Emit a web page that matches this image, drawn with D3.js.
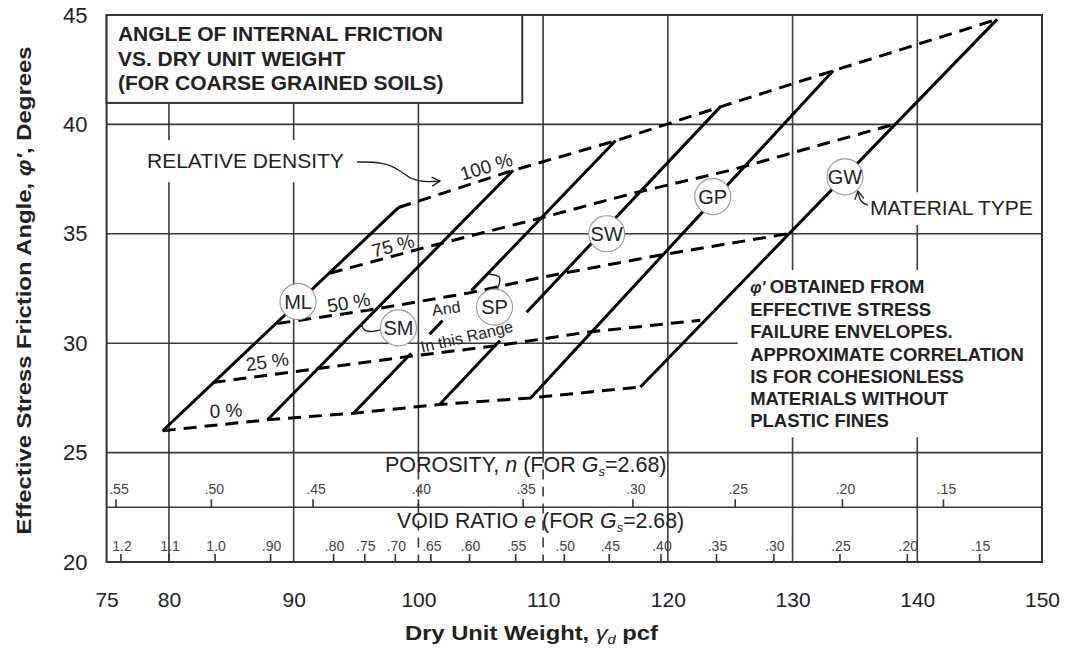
<!DOCTYPE html>
<html>
<head>
<meta charset="utf-8">
<title>Angle of internal friction vs dry unit weight</title>
<script src="https://d3js.org/d3.v7.min.js"></script>
<style>
    body { margin: 0; background: #fff; }
    text { font-family: "Liberation Sans", Arial, sans-serif; fill: #222; }
</style>
</head>
<body>
<script>
// ---- values ----
var xTicks = [75, 80, 90, 100, 110, 120, 130, 140, 150];
var yTicks = [20, 25, 30, 35, 40, 45];

var materials = ["ML", "SM", "SP", "SW", "GP", "GW"];
// each material line, 0 % end and 100 % end  [dry unit weight, phi']
var matLow  = [[79.5, 26.0], [87.9, 26.5], [94.8, 26.8], [101.7, 27.2], [109.0, 27.5], [117.8, 28.0]];
var matHigh = [[98.4, 36.2], [107.6, 37.9], [115.8, 39.25], [124.2, 40.8], [133.25, 42.45], [146.4, 44.8]];
// pieces of each line that are drawn (fraction along the line)
var matShown = [[[0, 1]], [[0, 1]], [[0, 0.22], [0.29, 0.34], [0.45, 1]], [[0, 0.215], [0.31, 1]], [[0, 1]], [[0, 1]]];
// where the circled names sit
var matTag = [[90.35, 31.9], [98.4, 30.7], [106.1, 31.65], [115.1, 35.0], [123.6, 36.7], [134.2, 37.6]];

var densNames = ["0 %", "25 %", "50 %", "75 %", "100 %"];
var dens0   = [[79.5, 26.0], [87.9, 26.5], [94.8, 26.8], [101.7, 27.2], [109.0, 27.5], [117.8, 28.0]];
var dens25  = [[83.5, 28.2], [99.3, 29.4], [106.5, 29.9], [113.5, 30.5], [122.6, 31.05]];
var dens50  = [[88.7, 30.9], [95.9, 31.5], [104.1, 32.3], [109.8, 33.0], [119.1, 34.0], [129.6, 35.0]];
var dens75  = [[92.9, 33.2], [100.7, 34.4], [110.0, 35.75], [117.2, 36.85], [125.0, 37.9], [138.1, 40.0]];
var dens100 = [[98.4, 36.2], [107.6, 37.9], [115.8, 39.25], [124.2, 40.8], [133.25, 42.45], [146.4, 44.8]];

var porosityLabels = [".55", ".50", ".45", ".40", ".35", ".30", ".25", ".20", ".15"];
var porosityAt     = [75.75, 83.4, 91.55, 100.0, 108.4, 117.2, 125.4, 134.0, 142.1];
var voidLabels = ["1.2", "1.1", "1.0", ".90", ".80", ".75", ".70", ".65", ".60", ".55", ".50", ".45", ".40", ".35", ".30", ".25", ".20", ".15"];
var voidAt     = [76.15, 80.0, 83.7, 88.15, 93.2, 95.7, 98.15, 101.0, 104.1, 107.8, 111.7, 115.3, 119.45, 123.9, 128.5, 133.8, 139.2, 145.0];

var titleLines = ["ANGLE OF INTERNAL FRICTION", "VS. DRY UNIT WEIGHT", "(FOR COARSE GRAINED SOILS)"];
var noteLines = ["OBTAINED FROM", "EFFECTIVE STRESS", "FAILURE ENVELOPES.", "APPROXIMATE CORRELATION",
    "IS FOR COHESIONLESS", "MATERIALS WITHOUT", "PLASTIC FINES"];

// ---- layout ----
var width = 1065, height = 650;

var svg = d3.select("body").append("svg")
    .attr("width", width)
    .attr("height", height);

svg.append("rect").attr("width", width).attr("height", height).attr("fill", "#fff");

var x = d3.scaleLinear().domain([75, 150]).range([106.6, 1042]);
var y = d3.scaleLinear().domain([20, 45]).range([562, 15]);

var line = d3.line()
    .x(function (d) { return x(d[0]); })
    .y(function (d) { return y(d[1]); });

var defs = svg.append("defs");
defs.append("marker")
    .attr("id", "arr")
    .attr("viewBox", "-10 -6 12 12")
    .attr("markerWidth", 12).attr("markerHeight", 12)
    .attr("markerUnits", "userSpaceOnUse")
    .attr("orient", "auto")
    .append("path")
    .attr("d", "M-8,-4.5 L0,0 L-8,4.5")
    .attr("fill", "none")
    .attr("stroke", "#222")
    .attr("stroke-width", 1.4);

/* GRID */
var vGrid = [
    { v: 80, solid: [[40.98, 39.28], [37.36, 20]] },
    { v: 90, solid: [[40.98, 39.28], [37.36, 20]] },
    { v: 100, solid: [[40.98, 25]], dash: [[25, 20]] },
    { v: 110, solid: [[45, 25]], dash: [[25, 20]] },
    { v: 120, solid: [[45, 20]] },
    { v: 130, solid: [[45, 33.34], [25.7, 20]] },
    { v: 140, solid: [[45, 36.9], [35.4, 33.34], [25.7, 20]] }
];
var hGrid = [[40, 150], [35, 150], [30, 125.6], [25, 150], [22.5, 150]];

var grid = svg.append("g").attr("stroke", "#3a3a3a").attr("stroke-width", 1.6);
vGrid.forEach(function (gl) {
    gl.solid.forEach(function (s) {
        grid.append("line")
            .attr("x1", x(gl.v)).attr("x2", x(gl.v))
            .attr("y1", y(s[0])).attr("y2", y(s[1]));
    });
    (gl.dash || []).forEach(function (s) {
        grid.append("line")
            .attr("x1", x(gl.v)).attr("x2", x(gl.v))
            .attr("y1", y(s[0])).attr("y2", y(s[1]))
            .attr("stroke-dasharray", "10,7");
    });
});
hGrid.forEach(function (h) {
    grid.append("line")
        .attr("x1", x(75)).attr("x2", x(h[1]))
        .attr("y1", y(h[0])).attr("y2", y(h[0]));
});

// frame
svg.append("rect")
    .attr("x", x(75)).attr("y", y(45))
    .attr("width", x(150) - x(75)).attr("height", y(20) - y(45))
    .attr("fill", "none").attr("stroke", "#333").attr("stroke-width", 2);

/* POROSITY / VOID RATIO scales */
var small = svg.append("g");
porosityAt.forEach(function (v, i) {
    small.append("line")
        .attr("x1", x(v)).attr("x2", x(v))
        .attr("y1", y(22.5)).attr("y2", y(22.5) - 8)
        .attr("stroke", "#333").attr("stroke-width", 1.6);
    small.append("text")
        .attr("x", x(v) + 3).attr("y", y(22.5) - 13)
        .attr("text-anchor", "middle")
        .style("font-size", "14px").style("fill", "#444")
        .text(porosityLabels[i]);
});
voidAt.forEach(function (v, i) {
    small.append("line")
        .attr("x1", x(v)).attr("x2", x(v))
        .attr("y1", y(20)).attr("y2", y(20) - 8)
        .attr("stroke", "#333").attr("stroke-width", 1.6);
    small.append("text")
        .attr("x", x(v) + 1).attr("y", y(20) - 11)
        .attr("text-anchor", "middle")
        .style("font-size", "14px").style("fill", "#444")
        .text(voidLabels[i]);
});

var por = svg.append("text").attr("x", x(97.32)).attr("y", y(24.1)).style("font-size", "21.5px");
por.append("tspan").text("POROSITY, ");
por.append("tspan").style("font-style", "italic").text("n");
por.append("tspan").text(" (FOR ");
por.append("tspan").style("font-style", "italic").text("G");
por.append("tspan").attr("dy", 4).style("font-size", "13px").style("font-style", "italic").text("s");
por.append("tspan").attr("dy", -4).text("=2.68)");

var vr = svg.append("text").attr("x", x(98.28)).attr("y", y(21.54)).style("font-size", "21.3px");
vr.append("tspan").text("VOID RATIO ");
vr.append("tspan").style("font-style", "italic").text("e");
vr.append("tspan").text(" (FOR ");
vr.append("tspan").style("font-style", "italic").text("G");
vr.append("tspan").attr("dy", 4).style("font-size", "13px").style("font-style", "italic").text("s");
vr.append("tspan").attr("dy", -4).text("=2.68)");

/* TITLE BOX */
svg.append("rect")
    .attr("x", x(75)).attr("y", y(45))
    .attr("width", x(108.33) - x(75)).attr("height", y(40.98) - y(45))
    .attr("fill", "#fff").attr("stroke", "#333").attr("stroke-width", 2);
var titleY = [43.79, 42.67, 41.55];
titleLines.forEach(function (t, i) {
    svg.append("text")
        .attr("x", x(75.91)).attr("y", y(titleY[i]))
        .style("font-size", "21px").style("font-weight", "bold")
        .text(t);
});

/* MATERIAL LINES */
var mat = svg.append("g")
    .attr("fill", "none").attr("stroke", "#000").attr("stroke-width", 3);
materials.forEach(function (m, i) {
    var a = matLow[i], b = matHigh[i];
    function at(t) { return [a[0] + (b[0] - a[0]) * t, a[1] + (b[1] - a[1]) * t]; }
    matShown[i].forEach(function (s) {
        mat.append("path").attr("d", line([at(s[0]), at(s[1])]));
    });
});

/* RELATIVE DENSITY LINES */
var densLines = [dens0, dens25, dens50, dens75, dens100];
svg.append("g")
    .selectAll("path")
    .data(densLines)
    .enter().append("path")
    .attr("d", line)
    .attr("fill", "none")
    .attr("stroke", "#000")
    .attr("stroke-width", 3)
    .attr("stroke-dasharray", "13,8");

// percent labels: [x, y, angle]
var densTagAt = [[84.6, 26.62, -3], [87.95, 28.86, -8], [94.5, 31.56, -10], [98.1, 34.16, -15], [105.6, 37.78, -17]];
densNames.forEach(function (n, i) {
    var p = densTagAt[i];
    svg.append("text")
        .attr("text-anchor", "middle")
        .attr("transform", "translate(" + x(p[0]) + "," + y(p[1]) + ") rotate(" + p[2] + ")")
        .style("font-size", "19px")
        .text(n);
});

/* pointers */
var pointers = [
    // relative density arrow
    { pts: [[95.08, 38.28], [97.17, 38.28], [98.53, 37.91], [99.33, 37.5], [100.53, 37.36], [101.73, 37.41]], arrow: true },
    // SM bracket
    { pts: [[95.4, 30.92], [95.64, 30.46], [96.92, 30.6]] },
    // SP bracket
    { pts: [[105.5, 33.16], [106.78, 33.11], [106.3, 32.43]] },
    // material type
    { pts: [[136.05, 36.31], [135.4, 36.45], [135.24, 36.95]], arrow: true }
];
var curve = d3.line()
    .x(function (d) { return x(d[0]); })
    .y(function (d) { return y(d[1]); })
    .curve(d3.curveBasis);
pointers.forEach(function (p) {
    var el = svg.append("path")
        .attr("d", curve(p.pts))
        .attr("fill", "none")
        .attr("stroke", "#222")
        .attr("stroke-width", 1.4);
    if (p.arrow) el.attr("marker-end", "url(#arr)");
});

/* MATERIAL CIRCLES */
var tags = svg.append("g").selectAll("g")
    .data(materials)
    .enter().append("g")
    .attr("transform", function (d, i) { return "translate(" + x(matTag[i][0]) + "," + y(matTag[i][1]) + ")"; });
tags.append("circle")
    .attr("r", 18)
    .attr("fill", "#fff")
    .attr("stroke", "#999")
    .attr("stroke-width", 1.1);
tags.append("text")
    .attr("text-anchor", "middle")
    .attr("dy", "0.36em")
    .style("font-size", "20px")
    .text(function (d) { return d; });

svg.append("text")
    .attr("text-anchor", "middle")
    .attr("transform", "translate(" + x(102.29) + "," + y(31.33) + ") rotate(-8)")
    .style("font-size", "16px")
    .text("And");
svg.append("text")
    .attr("text-anchor", "middle")
    .attr("transform", "translate(" + x(103.98) + "," + y(30.05) + ") rotate(-13)")
    .style("font-size", "16px")
    .text("In this Range");

svg.append("text")
    .attr("x", x(78.24)).attr("y", y(38.0))
    .style("font-size", "21px")
    .text("RELATIVE DENSITY");
svg.append("text")
    .attr("x", x(136.2)).attr("y", y(35.86))
    .style("font-size", "21px")
    .text("MATERIAL TYPE");

/* NOTE */
var noteY = [32.29, 31.26, 30.23, 29.18, 28.17, 27.17, 26.16];
noteLines.forEach(function (t, i) {
    var tx = svg.append("text")
        .attr("x", x(126.6)).attr("y", y(noteY[i]))
        .style("font-size", "18.5px").style("font-weight", "bold");
    if (i === 0) {
        tx.append("tspan").style("font-style", "italic").style("font-size", "16px").text("\u03c6' ");
    }
    tx.append("tspan").text(t);
});

/* AXES */
var xAxis = svg.append("g")
    .attr("transform", "translate(0," + y(20) + ")")
    .call(d3.axisBottom(x).tickValues(xTicks).tickSize(0).tickPadding(30).tickFormat(d3.format("d")));
xAxis.select(".domain").remove();
xAxis.selectAll("text")
    .style("font-size", "21px").style("fill", "#222");

var yAxis = svg.append("g")
    .attr("transform", "translate(" + x(75) + ",0)")
    .call(d3.axisLeft(y).tickValues(yTicks).tickSize(0).tickPadding(19).tickFormat(d3.format("d")));
yAxis.select(".domain").remove();
yAxis.selectAll("text")
    .style("font-size", "22px").style("fill", "#222");

var xt = svg.append("text")
    .attr("x", 405).attr("y", 640)
    .attr("textLength", 253).attr("lengthAdjust", "spacingAndGlyphs")
    .style("font-size", "21px").style("font-weight", "bold");
xt.append("tspan").text("Dry Unit Weight, ");
xt.append("tspan").style("font-style", "italic").style("font-weight", "normal").text("\u03b3");
xt.append("tspan").attr("dy", 4).style("font-size", "13px").style("font-style", "italic").style("font-weight", "normal").text("d");
xt.append("tspan").attr("dy", -4).text(" pcf");

var yt = svg.append("text")
    .attr("text-anchor", "middle")
    .attr("textLength", 488).attr("lengthAdjust", "spacingAndGlyphs")
    .attr("transform", "translate(31," + ((y(45) + y(20)) / 2 + 2) + ") rotate(-90)")
    .style("font-size", "21px").style("font-weight", "bold");
yt.append("tspan").text("Effective Stress Friction Angle, ");
yt.append("tspan").style("font-style", "italic").text("\u03c6'");
yt.append("tspan").text(", Degrees");
</script>
</body>
</html>
